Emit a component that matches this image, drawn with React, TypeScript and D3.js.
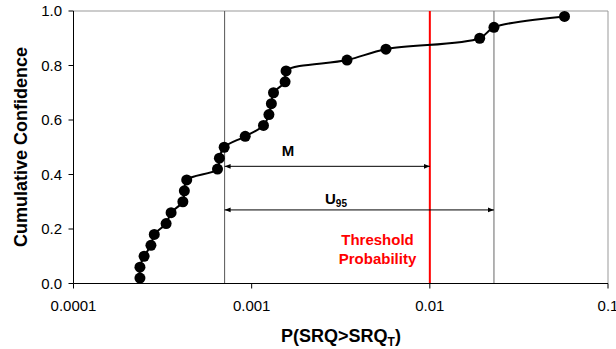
import React from "react";
import * as d3 from "d3";

const cumConfidence = [0.02, 0.06, 0.1, 0.14, 0.18, 0.22, 0.26, 0.3, 0.34, 0.38, 0.42, 0.46, 0.5, 0.54, 0.58, 0.62, 0.66, 0.7, 0.74, 0.78, 0.82, 0.86, 0.9, 0.94, 0.98];
const probValues = [2.36e-4, 2.36e-4, 2.49e-4, 2.72e-4, 2.84e-4, 3.31e-4, 3.53e-4, 4.11e-4, 4.19e-4, 4.32e-4, 6.43e-4, 6.59e-4, 7.01e-4, 9.2e-4, 1.165e-3, 1.25e-3, 1.29e-3, 1.326e-3, 1.54e-3, 1.56e-3, 3.43e-3, 5.67e-3, 1.905e-2, 2.29e-2, 5.7e-2];
const xTicks = [1e-4, 1e-3, 1e-2, 1e-1];
const xTickLabels = ["0.0001", "0.001", "0.01", "0.1"];
const yTicks = [0, 0.2, 0.4, 0.6, 0.8, 1.0];
const yTickLabels = ["0.0", "0.2", "0.4", "0.6", "0.8", "1.0"];
const medianP = 7.05e-4;
const thresholdP = 0.01;
const u95P = 2.29e-2;
const mArrowY = 0.43;
const uArrowY = 0.27;

const W = 616, H = 349;
const L = 73.5, R = 608, T = 11, B = 283.5;
const font = "Arial, 'Liberation Sans', sans-serif";

export default function App() {
  const x = d3.scaleLog().domain([1e-4, 1e-1]).range([L, R]);
  const y = d3.scaleLinear().domain([0, 1]).range([B, T]);
  const pts = probValues.map((p, i) => [x(p), y(cumConfidence[i])] as [number, number]);
  const line = d3.line().curve(d3.curveCatmullRom.alpha(0.5))(pts) || "";
  const xm = x(medianP), xt = x(thresholdP), xu = x(u95P);
  const ym = y(mArrowY), yu = y(uArrowY);
  return (
    <svg width={W} height={H} style={{ position: "absolute", left: 0, top: 0, background: "#fff" }} fontFamily={font}>
      <defs>
        <marker id="ah" viewBox="0 0 10 10" refX="10" refY="5" markerWidth="6" markerHeight="6" orient="auto-start-reverse" markerUnits="userSpaceOnUse">
          <path d="M0,1 L10,5 L0,9 z" fill="#000" />
        </marker>
      </defs>
      <rect x={0} y={0} width={W} height={H} fill="#fff" />
      {/* plot border */}
      <line x1={L} x2={R} y1={T} y2={T} stroke="#999" strokeWidth={1} />
      <line x1={R} x2={R} y1={T} y2={B} stroke="#999" strokeWidth={1} />
      {/* vertical markers */}
      <line x1={xm} x2={xm} y1={T} y2={B} stroke="#555" strokeWidth={1} />
      <line x1={xu} x2={xu} y1={T} y2={B} stroke="#808080" strokeWidth={1.2} />
      <line x1={xt} x2={xt} y1={T} y2={B} stroke="#ff0000" strokeWidth={2} />
      {/* arrows */}
      <line x1={xm} x2={xt} y1={ym} y2={ym} stroke="#000" strokeWidth={1} markerStart="url(#ah)" markerEnd="url(#ah)" />
      <line x1={xm} x2={xu} y1={yu} y2={yu} stroke="#000" strokeWidth={1} markerStart="url(#ah)" markerEnd="url(#ah)" />
      <text x={288} y={156} fontSize={15} fontWeight="bold" textAnchor="middle">M</text>
      <text x={325} y={204} fontSize={15} fontWeight="bold">U<tspan fontSize={10} dy={3}>95</tspan></text>
      <text x={377.5} y={245} fontSize={15} fontWeight="bold" fill="#ff0000" textAnchor="middle">Threshold</text>
      <text x={377.5} y={264} fontSize={15} fontWeight="bold" fill="#ff0000" textAnchor="middle">Probability</text>
      {/* axes */}
      <line x1={L} x2={L} y1={T} y2={B} stroke="#000" strokeWidth={1} />
      <line x1={L} x2={R} y1={B} y2={B} stroke="#000" strokeWidth={1} />
      {yTicks.map((t, i) => (
        <g key={"y" + i}>
          <line x1={L - 5} x2={L} y1={y(t)} y2={y(t)} stroke="#000" />
          <text x={62} y={y(t) + 5} fontSize={15} textAnchor="end">{yTickLabels[i]}</text>
        </g>
      ))}
      {xTicks.map((t, i) => (
        <g key={"x" + i}>
          <line x1={x(t)} x2={x(t)} y1={B} y2={B + 5} stroke="#000" />
          <text x={x(t)} y={310.5} fontSize={15} textAnchor="middle">{xTickLabels[i]}</text>
        </g>
      ))}
      {/* data */}
      <path d={line} fill="none" stroke="#000" strokeWidth={2} />
      {pts.map((p, i) => (
        <circle key={i} cx={p[0]} cy={p[1]} r={5.5} fill="#000" />
      ))}
      {/* titles */}
      <text transform={`translate(26.5,147) rotate(-90)`} fontSize={18} fontWeight="bold" textAnchor="middle">Cumulative Confidence</text>
      <text x={341} y={342} fontSize={18} fontWeight="bold" textAnchor="middle">P(SRQ&gt;SRQ<tspan fontSize={12} dy={4}>T</tspan><tspan dy={-4}>)</tspan></text>
    </svg>
  );
}
